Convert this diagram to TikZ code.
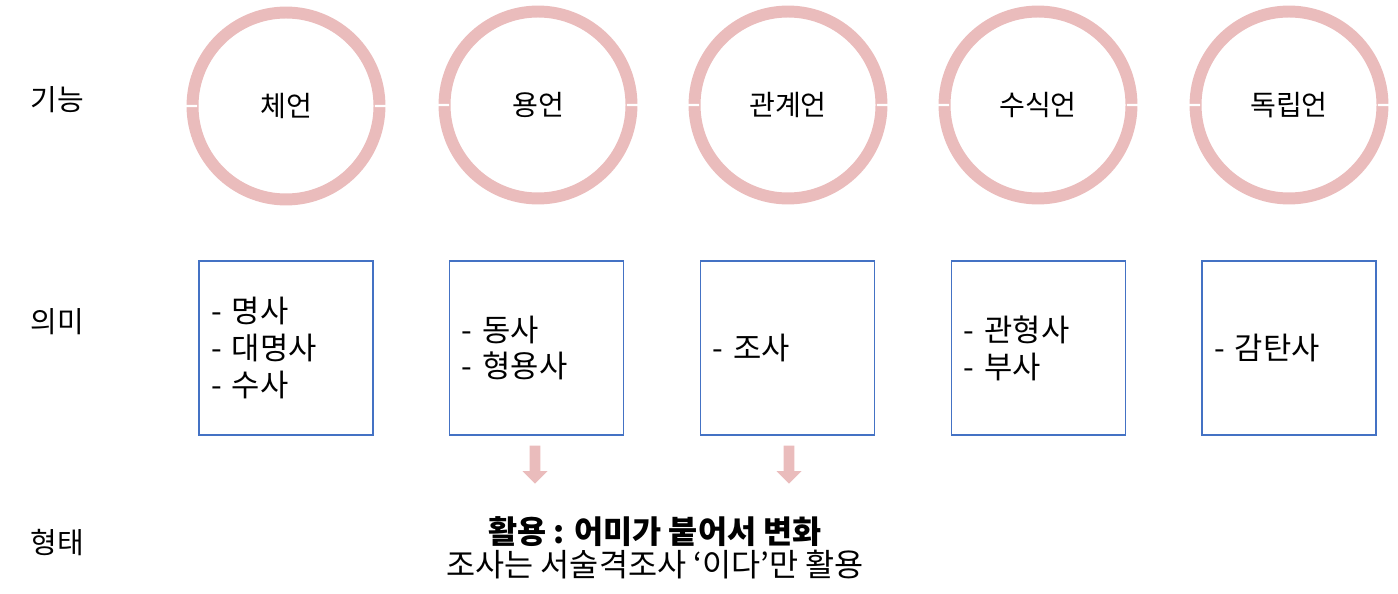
\documentclass[tikz,border=0pt]{standalone}
\usepackage{fontspec}
\setmainfont{Noto Sans CJK KR}
\usetikzlibrary{positioning,shapes.arrows}
\definecolor{ringpink}{RGB}{234,188,188}
\definecolor{boxblue}{RGB}{68,114,196}
\begin{document}
\begin{tikzpicture}[x=0.02cm,y=-0.02cm,
	ring node/.style={circle, draw=ringpink, line width=6.8pt, minimum size=3.74cm, font=\fontsize{16}{18}\selectfont},
	mean node/.style={draw=boxblue, line width=0.8pt, minimum size=3.48cm, text width=3.0cm, align=left, font=\fontsize{17.5}{21}\selectfont},
	row label/.style={font=\fontsize{16.5}{18}\selectfont},
	down arrow/.style={single arrow, fill=ringpink, draw=none, shape border rotate=270, minimum height=0.76cm, minimum width=0.5cm, single arrow head extend=0.1cm, inner sep=2pt}]
	\useasboundingbox (0,0) rectangle (1398,594);
	
	\node[row label] (func) at (57,100) {기능};
	\node[row label] (mean) at (57,322) {의미};
	\node[row label] (form) at (57,543) {형태};
	
	\node[ring node] (c1) at (286,106) {체언};
	\node[ring node] (c2) at (538,105) {용언};
	\node[ring node] (c3) at (788,105) {관계언};
	\node[ring node] (c4) at (1038,105) {수식언};
	\node[ring node] (c5) at (1289,105) {독립언};
	
	% thin breaks in the rings
	\foreach \c in {c1,c2,c3,c4,c5}
		\fill[white] ([xshift=-6pt,yshift=-0.6pt]\c.west) rectangle ([xshift=6pt,yshift=0.6pt]\c.west)
			([xshift=-6pt,yshift=-0.6pt]\c.east) rectangle ([xshift=6pt,yshift=0.6pt]\c.east);
	
	\node[mean node] (b1) at (286,348) {- 명사\\- 대명사\\- 수사};
	\node[mean node] (b2) at (536.5,348) {- 동사\\- 형용사};
	\node[mean node] (b3) at (787.5,348) {- 조사};
	\node[mean node] (b4) at (1038.5,348) {- 관형사\\- 부사};
	\node[mean node] (b5) at (1289,348) {- 감탄사};
	
	\node[down arrow] (a1) at (535,462) {};
	\node[down arrow] (a2) at (789,462) {};
	
	\node[align=center, font=\fontsize{18}{19}\selectfont] (use) at (655,548)
		{\textbf{활용 : 어미가 붙어서 변화}\\조사는 서술격조사 ‘이다’만 활용};
\end{tikzpicture}
\end{document}
